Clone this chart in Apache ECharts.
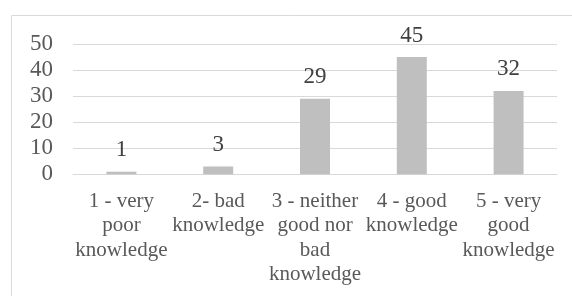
<!DOCTYPE html>
<html>
<head>
<meta charset="utf-8">
<script src="https://cdn.jsdelivr.net/npm/echarts@6/dist/echarts.min.js"></script>
<style>
  html, body { margin: 0; padding: 0; background: #fff; }
  #chart { width: 572px; height: 296px; }
</style>
</head>
<body>
<div id="chart"></div>
<script>
var categories = [
  "1 - very\npoor\nknowledge",
  "2- bad\nknowledge",
  "3 - neither\ngood nor\nbad\nknowledge",
  "4 - good\nknowledge",
  "5 - very\ngood\nknowledge"
];
var counts = [1, 3, 29, 45, 32];
var yTicks = { min: 0, max: 50, step: 10 };

var font = "'Liberation Serif', 'Times New Roman', serif";
var textColor = "#595959";

var myChart = echarts.init(document.getElementById("chart"));
var option = {
  animation: false,
  textStyle: { fontFamily: font },
  graphic: [
    {
      type: "rect",
      shape: { x: 11.5, y: 15.5, width: 620, height: 320 },
      style: { fill: "none", stroke: "#d9d9d9", lineWidth: 1 },
      silent: true
    }
  ],
  grid: { left: 73, right: 15, top: 44, bottom: 121.7 },
  xAxis: {
    type: "category",
    data: categories,
    axisLine: { lineStyle: { color: "#d9d9d9", width: 1 } },
    axisTick: { show: false },
    axisLabel: {
      interval: 0,
      margin: 14.5,
      color: textColor,
      fontFamily: font,
      fontSize: 21,
      lineHeight: 24.5,
      align: "center"
    }
  },
  yAxis: {
    type: "value",
    min: yTicks.min,
    max: yTicks.max,
    interval: yTicks.step,
    axisLine: { show: false },
    axisTick: { show: false },
    splitLine: { lineStyle: { color: "#d9d9d9", width: 1 } },
    axisLabel: {
      margin: 20,
      color: textColor,
      fontFamily: font,
      fontSize: 23
    }
  },
  series: [
    {
      type: "bar",
      data: counts,
      barWidth: 30,
      itemStyle: { color: "#bfbfbf" },
      label: {
        show: true,
        position: "top",
        distance: 10,
        color: "#404040",
        fontFamily: font,
        fontSize: 23
      }
    }
  ]
};
myChart.setOption(option);
</script>
</body>
</html>
